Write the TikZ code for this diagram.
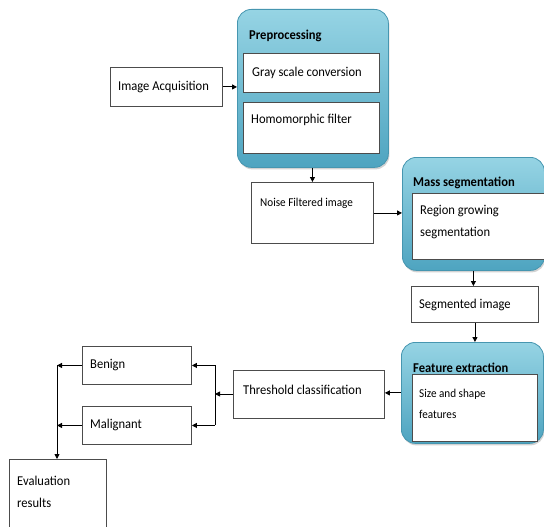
\documentclass[tikz,border=0pt]{standalone}
\usepackage{fontspec}
\setmainfont[FakeStretch=0.93]{Carlito}
\usetikzlibrary{arrows.meta,shadows}
\definecolor{bluetop}{RGB}{150,212,228}
\definecolor{bluebot}{RGB}{78,164,192}
\definecolor{blueedge}{RGB}{70,150,176}
\begin{document}
\begin{tikzpicture}[x=1pt,y=-1pt,
  box/.style={draw=black!70, line width=0.9pt, fill=white, inner sep=0pt, anchor=north west},
  bluebox/.style={draw=blueedge, line width=0.8pt, rounded corners=14pt, top color=bluetop, bottom color=bluebot, inner sep=0pt, anchor=north west, drop shadow={shadow xshift=1pt, shadow yshift=-2pt, fill=black!35}},
  txt/.style={font=\fontsize{13.5}{22}\selectfont, inner sep=0pt, anchor=base west, align=left},
  smalltxt/.style={font=\fontsize{12}{21}\selectfont, inner sep=0pt, anchor=base west, align=left},
  title/.style={font=\bfseries\fontsize{13.5}{16}\selectfont, inner sep=0pt, anchor=base west},
  arr/.style={-{Triangle[length=5pt,width=5pt]}, line width=0.9pt},
  line/.style={line width=0.9pt}]
\useasboundingbox (0,0) rectangle (544,527);

% Preprocessing
\node[bluebox, minimum width=151pt, minimum height=158pt] (pre) at (237,9) {};
\node[title] (preT) at (249,40) {Preprocessing};
\node[box, minimum width=136pt, minimum height=39pt] (gray) at (243,53) {};
\node[txt] (grayT) at (252,77) {Gray scale conversion};
\node[box, minimum width=136pt, minimum height=51pt] (homo) at (243,102) {};
\node[txt] (homoT) at (251,124) {Homomorphic filter};

% Image acquisition
\node[box, minimum width=112pt, minimum height=39pt] (acq) at (110,67) {};
\node[txt] (acqT) at (118,91) {Image Acquisition};

% Noise filtered
\node[box, minimum width=122pt, minimum height=61pt] (noise) at (251,182) {};
\node[smalltxt] (noiseT) at (260,206) {Noise Filtered image};

% Mass segmentation
\node[bluebox, minimum width=142pt, minimum height=113pt] (mass) at (402,157) {};
\node[title] (massT) at (413,186) {Mass segmentation};
\node[box, minimum width=136pt, minimum height=66pt] (reg) at (412,193) {};
\node[txt] (regT) at (420,236) {Region growing\\segmentation};

% Segmented image
\node[box, minimum width=127pt, minimum height=36pt] (seg) at (411,286) {};
\node[txt] (segT) at (419,308) {Segmented image};

% Feature extraction
\node[bluebox, minimum width=142pt, minimum height=101pt] (feat) at (401,342) {};
\node[title] (featT) at (413,372) {Feature extraction};
\node[box, minimum width=125pt, minimum height=67pt] (size) at (412,374) {};
\node[smalltxt] (sizeT) at (419,418) {Size and shape\\features};

% Threshold classification
\node[box, minimum width=151pt, minimum height=48pt] (thr) at (233,370) {};
\node[txt] (thrT) at (243,394) {Threshold classification};

% Benign / Malignant
\node[box, minimum width=109pt, minimum height=38pt] (ben) at (82,346) {};
\node[txt] (benT) at (90,368) {Benign};
\node[box, minimum width=109pt, minimum height=38pt] (mal) at (82,406) {};
\node[txt] (malT) at (90,428) {Malignant};

% Evaluation
\node[box, minimum width=97pt, minimum height=80pt] (eval) at (9,459) {};
\node[txt] (evalT) at (17,507) {Evaluation\\results};

\coordinate (sp) at (215,394);
\coordinate (ml) at (57,366);

% connectors
\draw[arr] (acq.east) -- (acq.east -| pre.west);
\draw[arr] (pre.south -| noise.north) -- (noise.north);
\draw[arr] (noise.east) -- (noise.east -| mass.west);
\draw[arr] (mass.south) -- (mass.south |- seg.north);
\draw[arr] (seg.south) -- (seg.south |- feat.north);
\draw[arr] (feat.west) -- (feat.west -| thr.east);
\draw[arr] (thr.west |- sp) -- (sp);
\draw[line] (ben.east -| sp) -- (mal.east -| sp);
\draw[arr] (ben.east -| sp) -- (ben.east);
\draw[arr] (mal.east -| sp) -- (mal.east);
\draw[arr] (ben.west) -- (ben.west -| ml);
\draw[arr] (mal.west) -- (mal.west -| ml);
\draw[arr] (ben.west -| ml) -- (ml |- eval.north);
\end{tikzpicture}
\end{document}
